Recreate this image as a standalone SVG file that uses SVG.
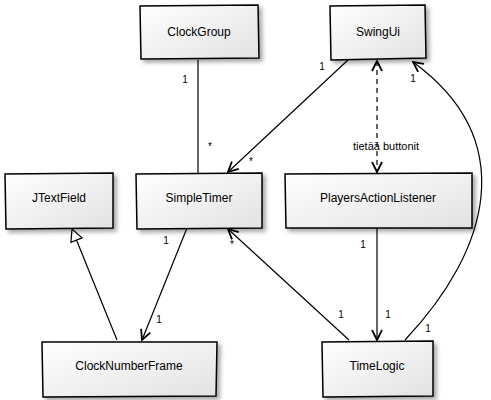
<svg xmlns="http://www.w3.org/2000/svg" width="491" height="400" viewBox="0 0 491 400">
<style>
.box{fill:url(#g);stroke:#000;stroke-width:1.5;filter:url(#sh)}
.lbl{font-family:"Liberation Sans",Arial,sans-serif;font-size:12px;fill:#000;text-anchor:middle}
.m{font-family:"Liberation Sans",Arial,sans-serif;font-size:10px;fill:#000;text-anchor:middle}
.c{fill:none;stroke:#000;stroke-width:1.2}
.d{stroke-dasharray:5,4}
</style>
<defs>
<linearGradient id="g" x1="0" y1="0" x2="1" y2="1">
<stop offset="0" stop-color="#ffffff"/>
<stop offset="1" stop-color="#e2e2e2"/>
</linearGradient>
<filter id="sh" x="-10%" y="-10%" width="130%" height="140%">
<feDropShadow dx="3" dy="3" stdDeviation="2" flood-color="#000" flood-opacity="0.35"/>
</filter>
<marker id="a" viewBox="0 0 12 12" refX="11" refY="6" markerWidth="12" markerHeight="12" markerUnits="userSpaceOnUse" orient="auto-start-reverse">
<path d="M1,1 L11,6 L1,11" fill="none" stroke="#000" stroke-width="1.8"/>
</marker>
<marker id="t" viewBox="0 0 14 14" refX="13" refY="7" markerWidth="14" markerHeight="14" markerUnits="userSpaceOnUse" orient="auto">
<path d="M1,1 L13,7 L1,13 Z" fill="#fff" stroke="#000" stroke-width="1.2"/>
</marker>
</defs>
<g id="connectors">
<path class="c" d="M198,60 L198,173"/>
<path class="c" d="M348,60 L228,172" marker-end="url(#a)"/>
<path class="c d" d="M377,61 L377,172" marker-start="url(#a)" marker-end="url(#a)"/>
<path class="c" d="M405,340 C490,250 520,140 413,62" marker-end="url(#a)"/>
<path class="c" d="M117,340 L72,229" marker-end="url(#t)"/>
<path class="c" d="M187,228 L142,340" marker-end="url(#a)"/>
<path class="c" d="M349,340 L228,229" marker-end="url(#a)"/>
<path class="c" d="M377,228 L377,340" marker-end="url(#a)"/>
<text class="m" x="185" y="83">1</text>
<text class="m" x="210" y="150">*</text>
<text class="m" x="322" y="70">1</text>
<text class="m" x="251" y="165">*</text>
<text class="m" x="386" y="150" style="font-size:11px">tietää buttonit</text>
<text class="m" x="413" y="82">1</text>
<text class="m" x="428" y="332">1</text>
<text class="m" x="166" y="244">1</text>
<text class="m" x="159" y="323">1</text>
<text class="m" x="232" y="248">*</text>
<text class="m" x="341" y="318">1</text>
<text class="m" x="388" y="318">1</text>
<text class="m" x="363" y="248">1</text>
</g>
<g id="ClockGroup">
<path class="box" d="M140,6 L258,5 L259,58 L141,59 Z"/>
<text class="lbl" x="199" y="36">ClockGroup</text>
</g>
<g id="SwingUi">
<path class="box" d="M330,6 L425,5 L426,58 L331,60 Z"/>
<text class="lbl" x="378" y="36">SwingUi</text>
</g>
<g id="JTextField">
<path class="box" d="M5,174 L113,173 L113,228 L6,229 Z"/>
<text class="lbl" x="59" y="202">JTextField</text>
</g>
<g id="SimpleTimer">
<path class="box" d="M136,174 L262,173 L262,228 L137,229 Z"/>
<text class="lbl" x="199" y="202">SimpleTimer</text>
</g>
<g id="PlayersActionListener">
<path class="box" d="M285,174 L472,173 L472,228 L286,228 Z"/>
<text class="lbl" x="378" y="202">PlayersActionListener</text>
</g>
<g id="ClockNumberFrame">
<path class="box" d="M42,342 L217,342 L216,396 L43,397 Z"/>
<text class="lbl" x="129" y="370">ClockNumberFrame</text>
</g>
<g id="TimeLogic">
<path class="box" d="M322,342 L433,341 L433,396 L323,397 Z"/>
<text class="lbl" x="377" y="370">TimeLogic</text>
</g>
</svg>
